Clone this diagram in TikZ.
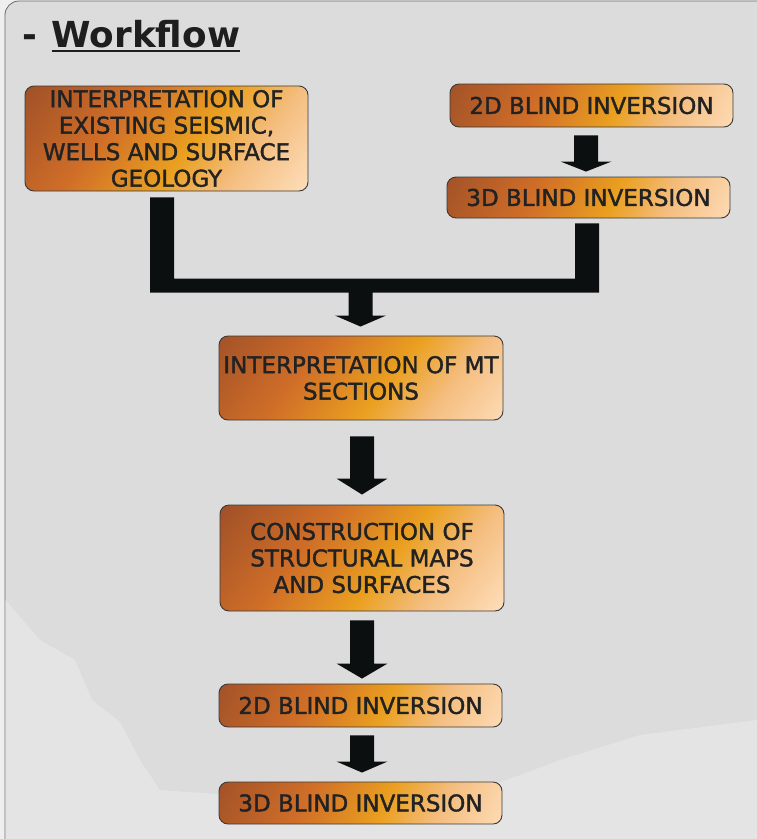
\documentclass[tikz,border=0pt]{standalone}
\usepackage{fontspec}
\setmainfont{DejaVu Sans}
\newfontfamily\boxfont[FakeBold=1.6]{DejaVu Sans}
\usetikzlibrary{calc}
\definecolor{g0}{HTML}{9C4E28}
\definecolor{g1}{HTML}{D06E28}
\definecolor{g2}{HTML}{EAA020}
\definecolor{g3}{HTML}{F4BD7E}
\definecolor{g4}{HTML}{FFE1C0}
\definecolor{boxline}{HTML}{3A3A3A}
\definecolor{txt}{HTML}{222222}
\definecolor{titlec}{HTML}{1E1E1E}
\definecolor{bg}{HTML}{DCDCDC}
\definecolor{bglight}{HTML}{E4E4E4}
\definecolor{outer}{HTML}{EFEFEF}
\definecolor{panelline}{HTML}{6A6A6A}
\definecolor{arrowc}{HTML}{0C0F10}
\pgfdeclarehorizontalshading{boxgrad}{100bp}{color(0bp)=(g0); color(25bp)=(g0); color(41.5bp)=(g1); color(54bp)=(g2); color(62.5bp)=(g3); color(75bp)=(g4); color(100bp)=(g4)}
\newcommand{\blockarrow}[3]{%
  \fill[arrowc] ($(#1)+(-12,0)$) -- ($(#1)+(12,0)$) -- ($(#2)+(12,-#3)$) -- ($(#2)+(25.5,-#3)$) -- (#2) -- ($(#2)+(-25.5,-#3)$) -- ($(#2)+(-12,-#3)$) -- cycle;}
\tikzset{
  wbox/.style={draw=boxline, line width=0.9pt, rounded corners=9pt, minimum width=283pt, align=center, inner sep=0pt, text=txt,
    font=\boxfont\fontsize{23}{26.5}\selectfont,
    path picture={\shade[shading=boxgrad, shading angle=#1] ($(path picture bounding box.center)+(-150,-150)$) rectangle ($(path picture bounding box.center)+(150,150)$);}},
  wbox/.default=-25,
  titletext/.style={anchor=base west, inner sep=0pt, text=titlec, font=\fontsize{35.8}{40}\selectfont\bfseries}
}
\begin{document}
\begin{tikzpicture}[x=1pt, y=-1pt]
\useasboundingbox (0,0) rectangle (757,839);
% background
\fill[outer] (0,0) rectangle (757,839);
\fill[bg, draw=panelline, line width=0.8pt, rounded corners=14pt] (5,1) rectangle (790,870);
\fill[bglight] (5.5,600) -- (40,640) -- (75,660) -- (92,700) -- (120,722) -- (140,760) -- (160,790) -- (300,800) -- (480,790) -- (560,760) -- (640,735) -- (757,720) -- (757,839) -- (5.5,839) -- cycle;
% title
\node[titletext] (dash) at (22,47) {-};
\node[titletext] (wf) at (51.5,47) {Workflow};
\draw[titlec, line width=2.6pt] ($(wf.base west)+(0,3.8)$) -- ($(wf.base east)+(0,3.8)$);
% boxes
\node[wbox=-38, minimum height=105pt] (A) at (166.5,138.5) {INTERPRETATION OF\\EXISTING SEISMIC,\\WELLS AND SURFACE\\GEOLOGY};
\node[wbox=-25, minimum height=43pt] (B) at (591.5,105.5) {2D BLIND INVERSION};
\node[wbox=-25, minimum height=41pt] (C) at (588.5,197.5) {3D BLIND INVERSION};
\node[wbox=-38, minimum height=84pt, minimum width=284pt] (D) at (361,378) {INTERPRETATION OF MT\\SECTIONS};
\node[wbox=-38, minimum height=106pt, minimum width=284pt] (E) at (362,558) {CONSTRUCTION OF\\STRUCTURAL MAPS\\AND SURFACES};
\node[wbox=-25, minimum height=43pt] (F) at (360.5,705.5) {2D BLIND INVERSION};
\node[wbox=-25, minimum height=42pt] (G) at (360.5,803) {3D BLIND INVERSION};
% arrow B -> C
\coordinate (bc1) at ($(B.south)+(-5.5,8)$);
\coordinate (bc2) at ($(C.north)+(-2.5,-5)$);
\blockarrow{bc1}{bc2}{10}
% joining connector A, C -> D
\coordinate (ja) at ($(A.south)+(-4.5,6)$);
\coordinate (jc) at ($(C.south)+(-1.5,5)$);
\coordinate (jt) at ($(D.north)+(-0.5,-9)$);
\coordinate (jy) at ($(jt)+(0,-34)$);
\fill[arrowc] ($(ja)+(-12,0)$) -- ($(ja)+(12,0)$) -- ($(ja |- jy)+(12,-14)$) -- ($(jc |- jy)+(-12,-14)$) -- ($(jc)+(-12,0)$) -- ($(jc)+(12,0)$) -- ($(jc |- jy)+(12,0)$) -- ($(jt |- jy)+(12,0)$) -- ($(jt)+(12,-11)$) -- ($(jt)+(25.5,-11)$) -- (jt) -- ($(jt)+(-25.5,-11)$) -- ($(jt)+(-12,-11)$) -- ($(jt |- jy)+(-12,0)$) -- ($(ja |- jy)+(-12,0)$) -- cycle;
% arrow D -> E
\coordinate (de1) at ($(D.south)+(1,16)$);
\coordinate (de2) at ($(E.north)+(0,-10)$);
\blockarrow{de1}{de2}{16}
% arrow E -> F
\coordinate (ef1) at ($(E.south)+(0,9)$);
\coordinate (ef2) at ($(F.north)+(1.5,-5)$);
\blockarrow{ef1}{ef2}{15}
% arrow F -> G
\coordinate (fg1) at ($(F.south)+(1.5,8)$);
\coordinate (fg2) at ($(G.north)+(1.5,-9)$);
\blockarrow{fg1}{fg2}{11}
\end{tikzpicture}
\end{document}
